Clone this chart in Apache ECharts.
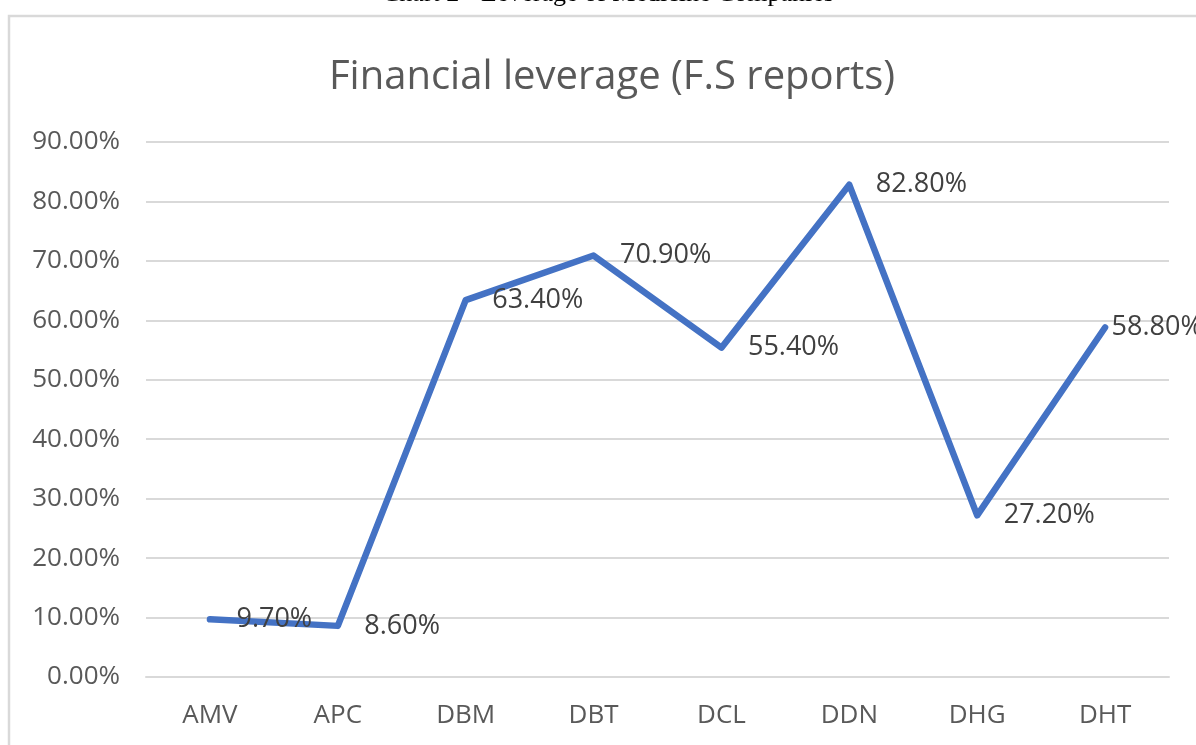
<!DOCTYPE html>
<html>
<head>
<meta charset="utf-8">
<script src="https://cdn.jsdelivr.net/npm/echarts@6/dist/echarts.min.js"></script>
<style>
html,body{margin:0;padding:0;background:#fff;}
#chart{width:1196px;height:745px;}
</style>
</head>
<body>
<div id="chart"></div>
<script>
const categories = ['AMV','APC','DBM','DBT','DCL','DDN','DHG','DHT'];
const leverage = [9.70, 8.60, 63.40, 70.90, 55.40, 82.80, 27.20, 58.80];
const captionText = 'Chart 2 - Leverage of Medicine Companies';
const titleText = 'Financial leverage (F.S reports)';

// the last label is squeezed against the right edge, as in the original
const seriesData = leverage.map((v, i) => i === leverage.length - 1
  ? {value: v, label: {distance: 6, offset: [0, 1]}}
  : v);

const chart = echarts.init(document.getElementById('chart'), null, {renderer:'canvas'});
chart.setOption({
  animation:false,
  backgroundColor:'#ffffff',
  graphic:[
    {type:'rect', shape:{x:9, y:16, width:1200, height:760}, style:{fill:'none', stroke:'#d9d9d9', lineWidth:2.5}, z:-1},
    {type:'text', x:608, y:7, style:{text:captionText, font:'26px "Liberation Serif", serif', fill:'#000', align:'center', verticalAlign:'bottom'}}
  ],
  title:{
    text:titleText, left:607, textAlign:'center', top:53,
    textStyle:{fontFamily:'"Open Sans", sans-serif', fontSize:40, fontWeight:'normal', color:'#595959'}
  },
  grid:{left:146, right:27, top:142, bottom:68, containLabel:false},
  xAxis:{
    type:'category', data:categories, boundaryGap:true,
    axisLine:{show:true, lineStyle:{color:'#d9d9d9', width:2}},
    axisTick:{show:false},
    axisLabel:{color:'#595959', fontSize:26, fontFamily:'"Open Sans", sans-serif', margin:26}
  },
  yAxis:{
    type:'value', min:0, max:90, interval:10,
    axisLine:{show:false}, axisTick:{show:false},
    splitLine:{lineStyle:{color:'#d9d9d9', width:2}},
    axisLabel:{color:'#595959', fontSize:26, fontFamily:'"Open Sans", sans-serif', margin:26,
      formatter:v=>v.toFixed(2)+'%'}
  },
  series:[{
    type:'line', data:seriesData, showSymbol:true, symbol:'circle', symbolSize:1,
    itemStyle:{color:'#4472C4'},
    lineStyle:{color:'#4472C4', width:6.5, join:'round', cap:'round'},
    label:{show:true, position:'right', distance:26, offset:[0,3], color:'#404040', fontSize:27,
      fontFamily:'"Open Sans", sans-serif', formatter:p=>p.value.toFixed(2)+'%'},
    labelLayout:{hideOverlap:false},
    emphasis:{disabled:true}
  }]
});
</script>
</body>
</html>
